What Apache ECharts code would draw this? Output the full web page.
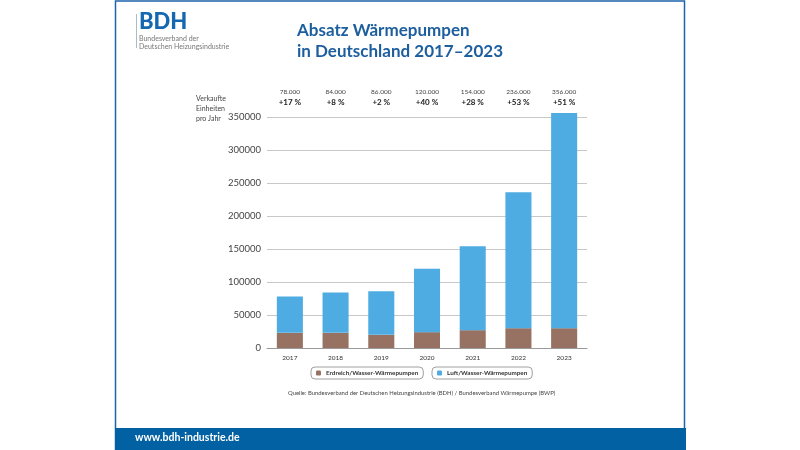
<!DOCTYPE html>
<html><head><meta charset="utf-8">
<script src="https://cdn.jsdelivr.net/npm/echarts@6/dist/echarts.min.js"></script>
<style>html,body{margin:0;padding:0;background:#fff;}#c{width:800px;height:450px;}</style>
</head><body><div id="c"></div>
<script>
const years = ['2017','2018','2019','2020','2021','2022','2023'];
const erdreich = [23000, 23000, 20000, 24000, 27000, 30000, 30000];
const luft = [55000, 61000, 66000, 96000, 127000, 206000, 326000];
const totalLabels = ['78.000','84.000','86.000','120.000','154.000','236.000','356.000'];
const growth = ['+17 %','+8 %','+2 %','+40 %','+28 %','+53 %','+51 %'];
const yTicks = [0, 50000, 100000, 150000, 200000, 250000, 300000, 350000];

const FONT = 'Lato, "Open Sans", sans-serif';
const BLUE = '#1c5e9e';
const chart = echarts.init(document.getElementById('c'));
chart.setOption({
  backgroundColor: '#fff',
  textStyle: {fontFamily: FONT},
  animation: false,
  graphic: [
    {type: 'rect', shape: {x: 115.5, y: 1, width: 569, height: 449}, style: {fill: 'none', stroke: '#1d63ac', lineWidth: 1.5}, z: 1},
    {type: 'rect', shape: {x: 115, y: 428, width: 571, height: 22}, style: {fill: '#0161a2'}, z: 2},
    {type: 'text', left: 135, top: 432, style: {text: 'www.bdh-industrie.de', fill: '#fff', font: 'bold 10.5px ' + FONT}, z: 3},
    {type: 'rect', shape: {x: 136, y: 14, width: 0.8, height: 34}, style: {fill: '#9ab'}, z: 3},
    {type: 'text', left: 139, top: 11, style: {text: 'BDH', fill: '#1467b0', font: '900 22px ' + FONT}, z: 3},
    {type: 'text', left: 139, top: 35, style: {text: 'Bundesverband der\nDeutschen Heizungsindustrie', fill: '#777', font: '7px ' + FONT, lineHeight: 7.5}, z: 3},
    {type: 'text', left: 'center', top: 20, style: {text: 'Absatz Wärmepumpen\nin Deutschland 2017–2023', fill: BLUE, font: 'bold 17px ' + FONT, lineHeight: 21, align: 'center'}, z: 3},
    {type: 'text', left: 196, top: 94, style: {text: 'Verkaufte\nEinheiten\npro Jahr', fill: '#444', font: '7px ' + FONT, lineHeight: 10}, z: 3},
    {type: 'text', left: 288, top: 390, style: {text: 'Quelle: Bundesverband der Deutschen Heizungsindustrie (BDH) / Bundesverband Wärmepumpe (BWP)', fill: '#444', font: '5.9px ' + FONT}, z: 3}
  ],
  legend: [
    {data: ['Erdreich/Wasser-Wärmepumpen'], left: 311, top: 367, itemWidth: 5, itemHeight: 5, itemGap: 4,
     borderColor: '#888', borderWidth: 0.8, borderRadius: 4, padding: [3, 5, 3, 5],
     textStyle: {fontSize: 6.3, fontWeight: 'bold', color: '#333', fontFamily: FONT}},
    {data: ['Luft/Wasser-Wärmepumpen'], left: 432, top: 367, itemWidth: 5, itemHeight: 5, itemGap: 4,
     borderColor: '#888', borderWidth: 0.8, borderRadius: 4, padding: [3, 5, 3, 5],
     textStyle: {fontSize: 6.3, fontWeight: 'bold', color: '#333', fontFamily: FONT}}
  ],
  grid: {left: 267, right: 213, top: 117, bottom: 102},
  xAxis: [
    {type: 'category', data: years, position: 'bottom',
     axisLine: {lineStyle: {color: '#999'}}, axisTick: {show: false},
     axisLabel: {interval: 0, fontSize: 6.5, color: '#333', margin: 6, fontFamily: FONT}},
    {type: 'category', data: years, position: 'top',
     axisLine: {show: false}, axisTick: {show: false},
     axisLabel: {interval: 0, margin: 9, formatter: (v, i) => '{a|' + totalLabels[i] + '}\n{b|' + growth[i] + '}',
       rich: {a: {fontSize: 6.5, color: '#444', lineHeight: 11, fontFamily: FONT},
              b: {fontSize: 8, color: '#222', fontWeight: 'bold', lineHeight: 11, fontFamily: FONT}}}}
  ],
  yAxis: {type: 'value', min: 0, max: 350000, interval: 50000,
    axisLine: {show: false}, axisTick: {show: false},
    splitLine: {lineStyle: {color: '#c8c8c8', width: 1}},
    axisLabel: {fontSize: 9.5, color: '#444', margin: 6, fontFamily: FONT,
      formatter: v => yTicks.includes(v) ? String(v) : ''}},
  series: [
    {name: 'Erdreich/Wasser-Wärmepumpen', type: 'bar', stack: 't', data: erdreich, barWidth: '57%', clip: false,
     itemStyle: {color: '#977262'}},
    {name: 'Luft/Wasser-Wärmepumpen', type: 'bar', stack: 't', data: luft, barWidth: '57%', clip: false,
     itemStyle: {color: '#4eace2'}}
  ]
});
</script></body></html>
